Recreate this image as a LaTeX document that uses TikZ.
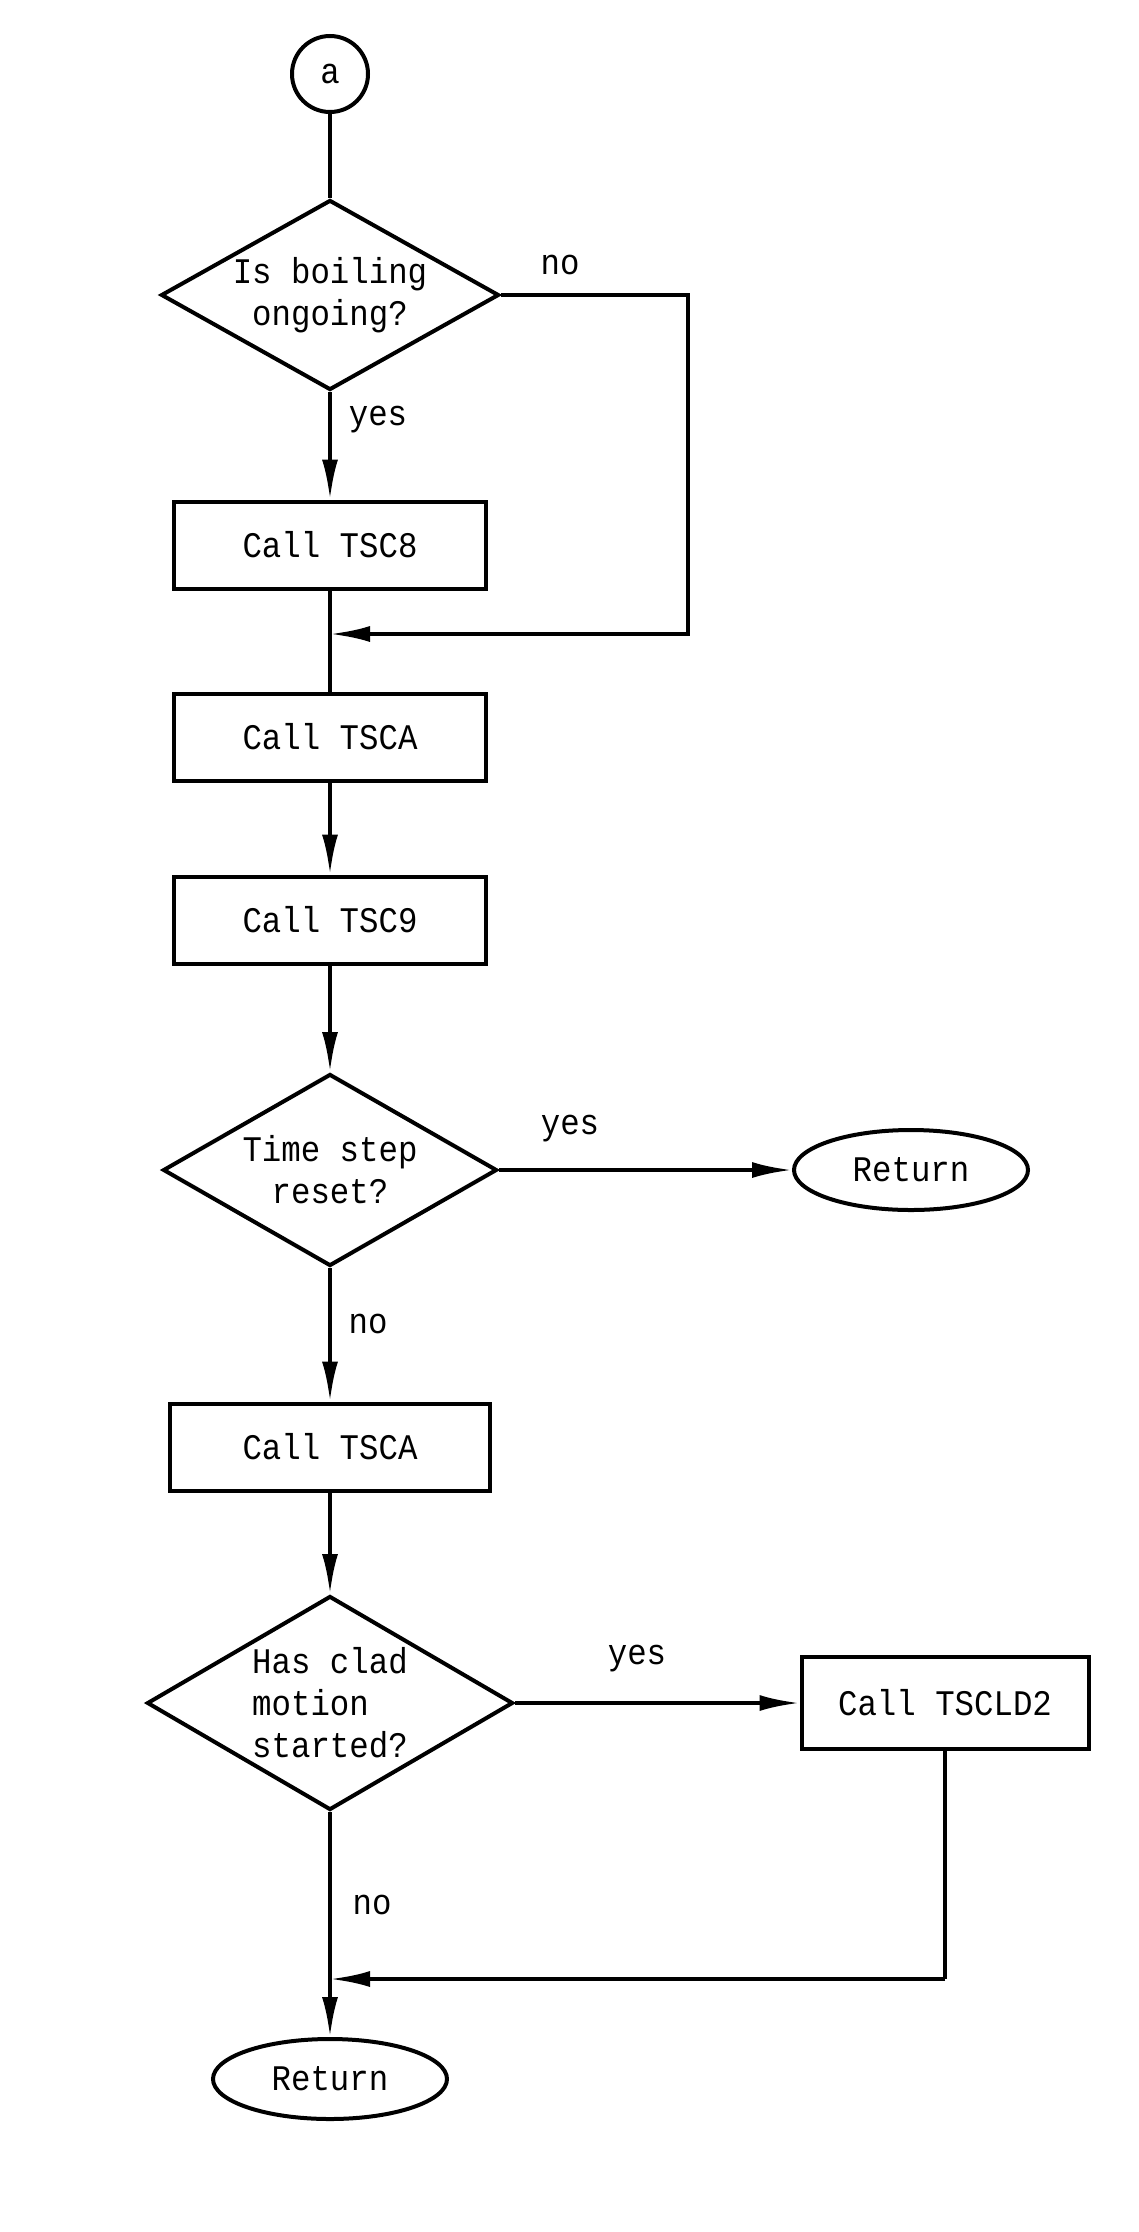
\documentclass[tikz,border=0pt]{standalone}
\usepackage{fontspec}
\setmainfont[FakeStretch=0.9]{Liberation Mono}
\usetikzlibrary{shapes.geometric,arrows.meta}

\begin{document}
\begin{tikzpicture}[x=0.5pt, y=-0.5pt, line width=2pt,
    font=\fontsize{18}{21}\selectfont,
    proc/.style={draw, rectangle, minimum width=156pt, minimum height=43.5pt},
    decide/.style={draw, diamond, inner sep=0pt},
    term/.style={draw, ellipse, minimum width=117pt, minimum height=40pt},
    flow/.style={-{Latex[length=20pt, width=8pt]}}]

    \useasboundingbox (0,0) rectangle (1139,2232);

    % main column
    \node[draw, circle, minimum size=38pt, inner sep=0pt] (a) at (330,74) {a};
    \node[decide, shape aspect=1.78, minimum width=169pt, minimum height=95pt,
        align=center] (boil) at (330,295) {Is boiling\\ongoing?};
    \node[proc] (tsc8) at (330,545) {Call TSC8};
    \node[proc] (tsca) at (330,737) {Call TSCA};
    \node[proc] (tsc9) at (330,920) {Call TSC9};
    \node[decide, shape aspect=1.74, minimum width=167pt, minimum height=96pt,
        align=center] (reset) at (330,1170) {Time step\\reset?};
    \node[term] (ret1) at (911,1170) {Return};
    \node[proc, minimum width=160pt] (tscb) at (330,1447) {Call TSCA};
    \node[decide, shape aspect=1.71, minimum width=183pt, minimum height=107pt,
        align=left] (clad) at (330,1703) {Has clad\\motion\\started?};
    \node[proc, minimum width=143.5pt, minimum height=46pt]
        (tscld) at (945,1703) {Call TSCLD2};
    \node[term] (ret2) at (330,2079) {Return};

    % branch labels
    \node (noA) at (560,265) {no};
    \node (yesA) at (378,420) {yes};
    \node (yesB) at (570,1129) {yes};
    \node (noB) at (368,1324) {no};
    \node (yesC) at (637,1659) {yes};
    \node (noC) at (372,1905) {no};

    \coordinate (joinA) at (330,634);
    \coordinate (bypass) at (688,634);
    \coordinate (joinB) at (330,1979);
    \coordinate (cldturn) at (tscld.south |- joinB);

    \draw (a) -- (boil);
    \draw[flow] (boil) -- (tsc8);
    \draw[flow] (boil.east) -| (bypass) -- (joinA);
    \draw (tsc8) -- (tsca);
    \draw[flow] (tsca) -- (tsc9);
    \draw[flow] (tsc9) -- (reset);
    \draw[flow] (reset.east) -- (ret1);
    \draw[flow] (reset) -- (tscb);
    \draw[flow] (tscb) -- (clad);
    \draw[flow] (clad.east) -- (tscld);
    \draw (tscld) -- (cldturn);
    \draw[flow] (cldturn) -- (joinB);
    \draw[flow] (clad) -- (ret2);
\end{tikzpicture}
\end{document}
